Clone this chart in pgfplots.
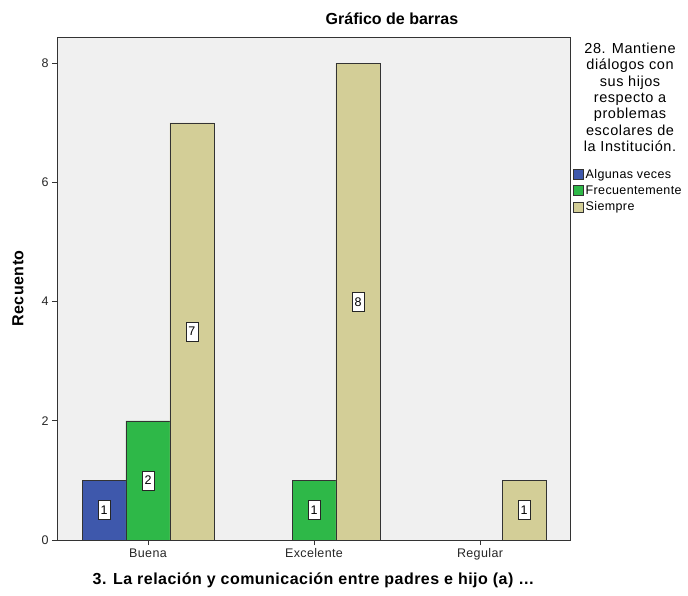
\documentclass[border=0pt]{standalone}
\usepackage{fontspec}
\setmainfont{Liberation Sans}
\newfontfamily\wsans[LetterSpace=3]{Liberation Sans}
\newfontfamily\wwsans[LetterSpace=4]{Liberation Sans}
\usepackage{pgfplots}
\pgfplotsset{compat=1.18}
\definecolor{cblue}{HTML}{3E58AC}
\definecolor{cgreen}{HTML}{2EB848}
\definecolor{cbeige}{HTML}{D3CE97}
\definecolor{bg}{HTML}{F0F0F0}
\begin{document}
\begin{tikzpicture}
\useasboundingbox (-57pt,-55pt) rectangle (631pt,540pt);
\begin{axis}[
  scale only axis, width=513pt, height=503pt, at={(0,0)}, anchor=south west,
  xmin=-0.548, xmax=2.542, ymin=0, ymax=8.44,
  axis background/.style={fill=bg},
  axis line style={draw=black!80},
  xtick={0,1,2}, xticklabels={Buena,Excelente,Regular},
  ytick={0,2,4,6,8},
  tick align=outside, tick pos=left, major tick length=5pt,
  tick style={draw=black!80, thick},
  /pgf/number format/assume math mode=true,
  ticklabel style={font=\wsans\fontsize{12.5}{14}\selectfont, text=black!85},
  xlabel={3. La relación y comunicación entre padres e hijo (a) \dots},
  ylabel={Recuento},
  label style={font=\wsans\bfseries\fontsize{16}{18}\selectfont},
  xlabel style={at={(rel axis cs:0.5,0)}, anchor=center, yshift=-40pt},
  ylabel style={at={(rel axis cs:0,0.5)}, anchor=center, xshift=0pt, yshift=39pt},
  legend style={at={(rel axis cs:1.006,0.742)}, anchor=north west, draw=none, fill=none,
    font=\wsans\fontsize{12.5}{14}\selectfont, row sep=2pt, inner sep=0pt, cells={anchor=west}},
  legend image code/.code={\draw[#1, draw=black!80] (0pt,-5pt) rectangle (10pt,5pt);},
  clip=false,
]
\addplot[ybar, bar width=0.265, bar shift=-0.265, fill=cblue, draw=black!80] coordinates {(0,1)};
\addlegendentry{Algunas veces}
\addplot[ybar, bar width=0.265, bar shift=0, fill=cgreen, draw=black!80] coordinates {(0,2) (1,1)};
\addlegendentry{Frecuentemente}
\addplot[ybar, bar width=0.265, bar shift=0.265, fill=cbeige, draw=black!80] coordinates {(0,7) (1,8) (2,1)};
\addlegendentry{Siempre}
\addplot[draw=none, mark=none, forget plot, nodes near coords, point meta=explicit symbolic,
  nodes near coords style={fill=white, draw=black!85, thick, inner xsep=2.5pt, inner ysep=5pt,
    text height=9pt, text depth=0pt, anchor=center, font=\fontsize{12.5}{14}\selectfont}]
  coordinates {(-0.265,0.5)[1] (0,1)[2] (0.265,3.5)[7] (1,0.5)[1] (1.265,4)[8] (2.265,0.5)[1]};
\node[font=\bfseries\fontsize{16}{18}\selectfont] at (rel axis cs:0.653,1.036) {Gráfico de barras};
\node[align=center, anchor=north, font=\wwsans\fontsize{14.5}{16.3}\selectfont] at (rel axis cs:1.117,0.995)
  {28. Mantiene\\diálogos con\\sus hijos\\respecto a\\problemas\\escolares de\\la Institución.};
\end{axis}
\end{tikzpicture}
\end{document}
